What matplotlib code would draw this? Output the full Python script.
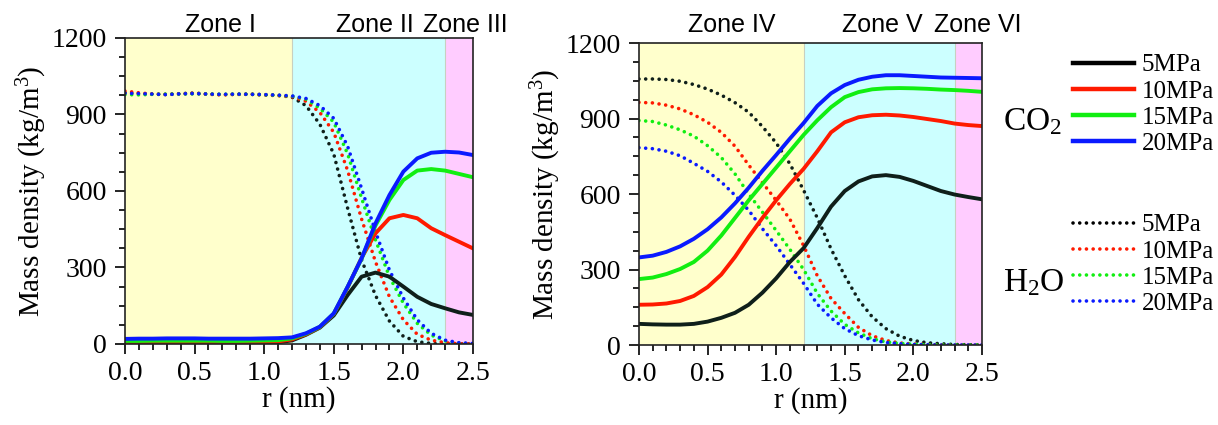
import numpy as np
import matplotlib.pyplot as plt
from matplotlib.ticker import MultipleLocator

plt.rcParams['font.family'] = ['Liberation Serif', 'DejaVu Serif']
plt.rcParams['mathtext.fontset'] = 'custom'
plt.rcParams['mathtext.rm'] = 'Liberation Serif'
plt.rcParams['mathtext.it'] = 'Liberation Serif:italic'

# radial position (nm)
r = np.round(np.arange(0, 2.51, 0.1), 2)

# ---- left panel: CO2 density (kg/m3) ----
co2_L_5 = [3, 3, 3, 3, 4, 4, 4, 4, 4, 4, 5, 7, 14, 36, 64, 112, 192, 264, 280, 264, 225, 185, 157, 140, 124, 114]
co2_L_10 = [6, 6, 6, 7, 7, 7, 7, 7, 7, 7, 8, 10, 18, 38, 66, 118, 222, 338, 434, 493, 506, 493, 454, 427, 401, 375]
co2_L_15 = [12, 12, 13, 13, 13, 13, 13, 12, 12, 13, 14, 15, 22, 40, 67, 119, 224, 335, 465, 565, 643, 680, 686, 680, 667, 654]
co2_L_20 = [20, 21, 21, 22, 22, 22, 21, 21, 21, 21, 22, 23, 26, 42, 68, 120, 225, 336, 473, 584, 676, 728, 750, 754, 751, 741]

# ---- left panel: H2O density ----
h2o_L_5 = [985, 982, 980, 978, 982, 984, 980, 978, 979, 980, 978, 975, 968, 935, 862, 745, 532, 330, 190, 90, 30, 9, 2, 0, 0, 0]
h2o_L_10 = [992, 985, 980, 979, 981, 983, 979, 977, 979, 979, 976, 974, 970, 952, 908, 830, 680, 490, 322, 185, 95, 38, 15, 5, 1, 0]
h2o_L_15 = [978, 977, 979, 980, 980, 981, 980, 979, 980, 979, 977, 975, 972, 960, 925, 870, 745, 572, 408, 264, 160, 81, 35, 12, 4, 1]
h2o_L_20 = [983, 982, 980, 978, 981, 982, 980, 979, 980, 979, 978, 976, 973, 963, 935, 885, 775, 610, 440, 290, 180, 95, 42, 15, 5, 2]

# ---- right panel: CO2 density ----
co2_R_5 = [84, 82, 81, 81, 84, 93, 108, 128, 160, 208, 265, 330, 385, 465, 550, 612, 650, 670, 675, 668, 652, 632, 612, 598, 588, 579]
co2_R_10 = [160, 161, 165, 175, 195, 230, 280, 350, 430, 505, 575, 640, 700, 770, 845, 885, 905, 913, 915, 912, 906, 898, 890, 880, 874, 870]
co2_R_15 = [262, 268, 282, 302, 330, 375, 435, 505, 575, 640, 705, 770, 835, 893, 945, 985, 1005, 1016, 1020, 1021, 1020, 1018, 1015, 1013, 1010, 1006]
co2_R_20 = [348, 355, 370, 392, 422, 460, 507, 563, 625, 692, 755, 820, 882, 950, 1000, 1033, 1054, 1066, 1072, 1072, 1069, 1066, 1063, 1062, 1061, 1060]

# ---- right panel: H2O density ----
h2o_R_5 = [1057, 1057, 1055, 1048, 1035, 1017, 993, 963, 925, 868, 803, 720, 615, 505, 382, 275, 180, 112, 65, 35, 18, 9, 5, 2, 1, 0]
h2o_R_10 = [964, 962, 953, 938, 915, 885, 845, 790, 715, 645, 575, 500, 395, 275, 185, 125, 70, 37, 18, 8, 4, 2, 1, 0, 0, 0]
h2o_R_15 = [892, 888, 874, 855, 830, 792, 745, 680, 600, 528, 455, 380, 300, 205, 135, 82, 48, 25, 12, 6, 3, 1, 0, 0, 0, 0]
h2o_R_20 = [784, 780, 770, 752, 722, 690, 648, 595, 535, 462, 395, 320, 245, 162, 108, 65, 37, 20, 10, 5, 2, 1, 0, 0, 0, 0]

pressures = ['5MPa', '10MPa', '15MPa', '20MPa']
colors = ['#0f1f1a', '#ff1a00', '#11ee11', '#0a1aff']
zone_edges = [0, 1.2, 2.3, 2.5]
zone_colors = ['#ffffcc', '#ccffff', '#ffccff']

fig = plt.figure(figsize=(12.18, 4.25), dpi=100)
axL = fig.add_axes([0.1026, 0.1906, 0.2857, 0.72])
axR = fig.add_axes([0.5246, 0.1882, 0.2816, 0.7106])

dot_style = (0, (0.01, 1.85))

def draw_panel(ax, co2, h2o):
    for i in range(3):
        ax.axvspan(zone_edges[i], zone_edges[i + 1], color=zone_colors[i], lw=0, zorder=0)
    for x in zone_edges[1:3]:
        ax.axvline(x, color='#c8d0c0', lw=0.8, zorder=0.5)
    lines_s, lines_d = [], []
    for y, c in zip(h2o, colors):
        l, = ax.plot(r, y, color=c, lw=2.6, linestyle=dot_style, dash_capstyle='round')
        lines_d.append(l)
    for y, c in zip(co2, colors):
        l, = ax.plot(r, y, color=c, lw=2.8, solid_joinstyle='round')
        lines_s.append(l)
    ax.set_xlim(0, 2.5)
    ax.set_ylim(0, 1200)
    ax.xaxis.set_major_locator(MultipleLocator(0.5))
    ax.xaxis.set_minor_locator(MultipleLocator(0.1))
    ax.yaxis.set_major_locator(MultipleLocator(300))
    ax.yaxis.set_minor_locator(MultipleLocator(75))
    ax.xaxis.set_major_formatter(plt.FormatStrFormatter('%.1f'))
    ax.tick_params(which='both', direction='out', width=1.2, labelsize=20, top=False, right=False)
    ax.tick_params(which='major', length=7)
    ax.tick_params(which='minor', length=4)
    ax.tick_params(axis='y', which='major', pad=6)
    ax.tick_params(axis='x', which='major', pad=5)
    for s in ax.spines.values():
        s.set_linewidth(1.2)
        s.set_color('#222222')
    ax.set_xlabel('r (nm)', fontsize=21, labelpad=0)
    ax.set_ylabel('Mass density (kg/m$^3$)', fontsize=21, labelpad=2)
    return lines_s, lines_d

sL, dL = draw_panel(axL, [co2_L_5, co2_L_10, co2_L_15, co2_L_20],
                    [h2o_L_5, h2o_L_10, h2o_L_15, h2o_L_20])
draw_panel(axR, [co2_R_5, co2_R_10, co2_R_15, co2_R_20],
           [h2o_R_5, h2o_R_10, h2o_R_15, h2o_R_20])

# zone labels above the panels
zone_font = dict(fontsize=18, family=['Liberation Sans', 'DejaVu Sans'], ha='center', va='center')
for txt, xp in [('Zone I', 220), ('Zone II', 375), ('Zone III', 465),
                ('Zone IV', 732), ('Zone V', 882), ('Zone VI', 978)]:
    fig.text(xp / 1218, 0.941, txt, **zone_font)

# legends
leg_kw = dict(loc='upper left', frameon=False, fontsize=18, handlelength=2.45,
              handletextpad=0.3, labelspacing=0.15, borderpad=0, borderaxespad=0)
leg1 = fig.legend(sL, pressures, bbox_to_anchor=(0.881, 0.873), **leg_kw)
leg2 = fig.legend(dL, pressures, bbox_to_anchor=(0.881, 0.497), **leg_kw)
leg1.legend_handles[0].set_color('black')
leg2.legend_handles[0].set_color('black')
for h in leg1.legend_handles:
    h.set_linewidth(3.2)

fig.text(0.848, 0.713, 'CO$_2$', fontsize=24, ha='center', va='center')
fig.text(0.849, 0.334, 'H$_2$O', fontsize=24, ha='center', va='center')

fig.savefig('out.png', dpi=100)
